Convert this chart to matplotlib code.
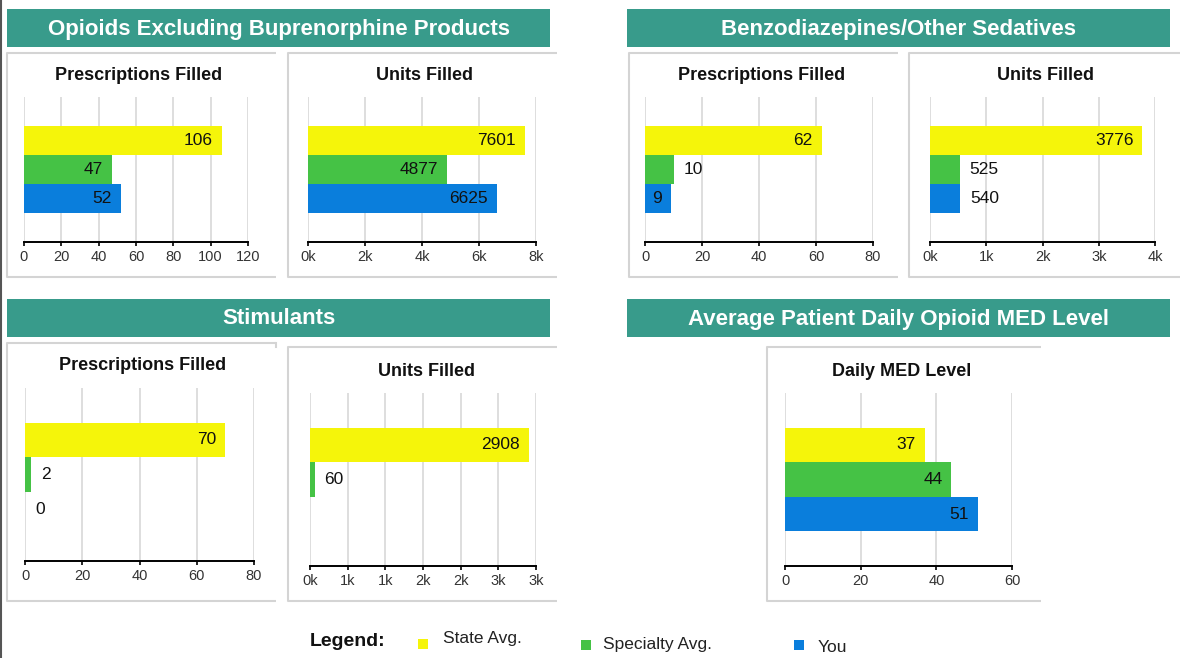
import matplotlib
matplotlib.use("Agg")
import matplotlib.pyplot as plt
from matplotlib.patches import Rectangle

plt.rcParams['font.family'] = ['Liberation Sans', 'DejaVu Sans']

W, H = 1180, 658

# --- data -------------------------------------------------------------
series_names = ["State Avg.", "Specialty Avg.", "You"]
series_colors = ["#f5f50a", "#45c245", "#0a7edc"]

section_titles = ["Opioids Excluding Buprenorphine Products",
                  "Benzodiazepines/Other Sedatives",
                  "Stimulants",
                  "Average Patient Daily Opioid MED Level"]

opioid_rx = [106, 47, 52]
opioid_units = [7601, 4877, 6625]
benzo_rx = [62, 10, 9]
benzo_units = [3776, 525, 540]
stim_rx = [70, 2, 0]
stim_units = [2908, 60, None]
med_level = [37, 44, 51]

opioid_rx_ticks = [0, 20, 40, 60, 80, 100, 120]
opioid_units_ticks = [0, 2000, 4000, 6000, 8000]
opioid_units_labels = ["0k", "2k", "4k", "6k", "8k"]
benzo_rx_ticks = [0, 20, 40, 60, 80]
benzo_units_ticks = [0, 1000, 2000, 3000, 4000]
benzo_units_labels = ["0k", "1k", "2k", "3k", "4k"]
stim_rx_ticks = [0, 20, 40, 60, 80]
stim_units_ticks = [0, 500, 1000, 1500, 2000, 2500, 3000]
stim_units_labels = ["0k", "1k", "1k", "2k", "2k", "3k", "3k"]
med_ticks = [0, 20, 40, 60]

TEAL = "#389b8b"
CARD = "#d4d4d4"

fig = plt.figure(figsize=(W / 100, H / 100), dpi=100)
fig.patch.set_facecolor("white")

# overlay for headers, cards, legend (pixel coords)
bg = fig.add_axes([0, 0, 1, 1])
bg.set_xlim(0, W)
bg.set_ylim(H, 0)
bg.axis("off")

# section headers
for (x0, y0, x1, y1), title in zip([(7, 9, 550, 47), (627, 9, 1170, 47),
                                    (7, 299, 550, 337), (627, 299, 1170, 337)],
                                   section_titles):
    bg.add_patch(Rectangle((x0, y0), x1 - x0, y1 - y0, color=TEAL, lw=0))
    bg.text((x0 + x1) / 2, (y0 + y1) / 2 + 1, title, color="white",
            fontsize=16, fontweight="bold", ha="center", va="center")

# card borders: top, left, bottom
cards = [(7, 53, 276, 277), (288, 53, 557, 277), (629, 53, 898, 277),
         (909, 53, 1180, 277), (7, 343, 276, 601), (288, 347, 557, 601),
         (767, 347, 1041, 601)]
for x0, y0, x1, y1 in cards:
    bg.plot([x1, x0, x0, x1], [y0, y0, y1, y1], color=CARD, lw=1.5,
            solid_capstyle="butt")
bg.plot([276, 276], [343, 347], color=CARD, lw=1.5)

# page border on the left
bg.plot([1, 1], [0, H], color="#555555", lw=1.5)


def bar_panel(box, title, title_y, values, ticks, ticklabels=None):
    x0, y0, x1, y1 = box
    ax = fig.add_axes([x0 / W, 1 - y1 / H, (x1 - x0) / W, (y1 - y0) / H])
    ax.set_facecolor("none")
    pos = list(range(len(values)))
    vals = [0 if v is None else v for v in values]
    ax.barh(pos, vals, height=1.0, color=series_colors, zorder=2)
    ax.set_xlim(ticks[0], ticks[-1])
    ax.set_ylim(len(values) - 1 + 1.5, -1.5)
    ax.set_xticks(ticks)
    ax.set_xticklabels(ticklabels if ticklabels else [str(t) for t in ticks])
    ax.set_yticks([])
    ax.grid(axis="x", color="#d8d8d8", lw=1.2, zorder=0)
    for s in ["top", "right", "left"]:
        ax.spines[s].set_visible(False)
    ax.spines["bottom"].set_color("black")
    ax.spines["bottom"].set_linewidth(1.4)
    ax.tick_params(axis="x", length=3, width=1.2, color="black", pad=3,
                   labelsize=10.5, labelcolor="#333333")
    px_per_unit = (x1 - x0) / (ticks[-1] - ticks[0])
    for p, v in zip(pos, values):
        if v is None:
            continue
        label = str(v)
        bar_px = v * px_per_unit
        if bar_px >= len(label) * 8 + 14:
            ax.annotate(label, (v, p), xytext=(-9, 0),
                        textcoords="offset pixels", ha="right", va="center",
                        fontsize=12.5, color="#111111", zorder=3)
        else:
            ax.annotate(label, (v, p), xytext=(10, 0),
                        textcoords="offset pixels", ha="left", va="center",
                        fontsize=12.5, color="#111111", zorder=3)
    bg.text((x0 + x1) / 2 + 3, title_y, title, fontsize=13,
            fontweight="bold", ha="center", va="center", color="#111111")
    return ax


bar_panel((24, 97, 248, 242), "Prescriptions Filled", 76, opioid_rx,
          opioid_rx_ticks)
bar_panel((308, 97, 536, 242), "Units Filled", 76, opioid_units,
          opioid_units_ticks, opioid_units_labels)
bar_panel((645, 97, 873, 242), "Prescriptions Filled", 76, benzo_rx,
          benzo_rx_ticks)
bar_panel((930, 97, 1155, 242), "Units Filled", 76, benzo_units,
          benzo_units_ticks, benzo_units_labels)
bar_panel((25, 388, 254, 561), "Prescriptions Filled", 366, stim_rx,
          stim_rx_ticks)
bar_panel((310, 393, 536, 566), "Units Filled", 371, stim_units,
          stim_units_ticks, stim_units_labels)
bar_panel((785, 393, 1012, 566), "Daily MED Level", 371, med_level,
          med_ticks)

# legend
bg.text(310, 641, "Legend:", fontsize=14, fontweight="bold", ha="left",
        va="center", color="#111111")
for (sx, sy, tx, ty), name, col in zip([(418, 639, 443, 638),
                                         (581, 640, 603, 644),
                                         (794, 640, 818, 647)],
                                        series_names, series_colors):
    bg.add_patch(Rectangle((sx, sy), 10, 10, color=col, lw=0))
    bg.text(tx, ty, name, fontsize=12.5, ha="left", va="center",
            color="#222222")

fig.savefig("out.png", dpi=100, facecolor="white")
